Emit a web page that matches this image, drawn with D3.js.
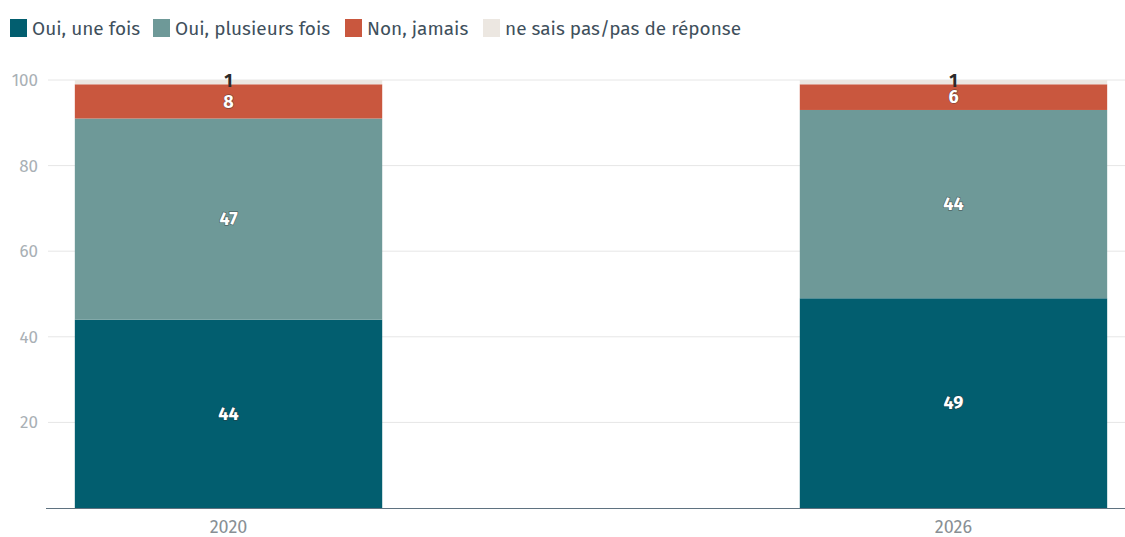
<!DOCTYPE html>
<html>
<head>
<meta charset="utf-8">
<script src="https://cdn.jsdelivr.net/npm/d3@7"></script>
<style>
  body { margin: 0; background: #fff; }
  svg { font-family: "Fira Sans", Roboto, "Noto Sans", sans-serif; }
</style>
</head>
<body>
<div id="chart"></div>
<script>
const years = ["2020", "2026"];
const series = ["Oui, une fois", "Oui, plusieurs fois", "Non, jamais", "ne sais pas/pas de réponse"];
const colors = ["#025e6f", "#6e9998", "#c9573e", "#ece7e1"];
const onceValues = [44, 49];
const severalValues = [47, 44];
const neverValues = [8, 6];
const dkValues = [1, 1];
const yTicks = [20, 40, 60, 80, 100];

const width = 1125, height = 537;
const svg = d3.select("#chart").append("svg")
    .attr("width", width)
    .attr("height", height);

const rows = years.map((y, i) => ({
    year: y,
    [series[0]]: onceValues[i],
    [series[1]]: severalValues[i],
    [series[2]]: neverValues[i],
    [series[3]]: dkValues[i]
}));
const stacked = d3.stack().keys(series)(rows);

const x = d3.scaleBand()
    .domain(years)
    .range([48, 1134])
    .paddingInner(0.576)
    .paddingOuter(0.037);

const y = d3.scaleLinear()
    .domain([0, 100])
    .range([508, 80]);

// grid
svg.append("g").selectAll("line")
    .data(yTicks)
    .join("line")
    .attr("x1", 48).attr("x2", width)
    .attr("y1", d => y(d)).attr("y2", d => y(d))
    .attr("stroke", "#e6e6e6")
    .attr("stroke-width", 1);

// y labels
svg.append("g").selectAll("text")
    .data(yTicks)
    .join("text")
    .attr("x", 38)
    .attr("y", d => y(d))
    .attr("dy", "0.35em")
    .attr("text-anchor", "end")
    .attr("fill", "#a9b0b5")
    .attr("font-size", 17)
    .text(d => d);

// bars
const layer = svg.append("g").selectAll("g")
    .data(stacked)
    .join("g")
    .attr("fill", (d, i) => colors[i]);

layer.selectAll("rect")
    .data(d => d)
    .join("rect")
    .attr("x", d => x(d.data.year))
    .attr("width", x.bandwidth())
    .attr("y", d => y(d[1]))
    .attr("height", d => y(d[0]) - y(d[1]));

// axis line
svg.append("line")
    .attr("x1", 46).attr("x2", width)
    .attr("y1", 508.5).attr("y2", 508.5)
    .attr("stroke", "#5f7280")
    .attr("stroke-width", 1.2);

// x labels
svg.append("g").selectAll("text")
    .data(years)
    .join("text")
    .attr("x", d => x(d) + x.bandwidth() / 2)
    .attr("y", 533)
    .attr("text-anchor", "middle")
    .attr("fill", "#888f94")
    .attr("font-size", 18)
    .text(d => d);

// value labels
stacked.forEach((s, si) => {
    const dark = si === 3;
    svg.append("g").selectAll("text")
        .data(s)
        .join("text")
        .attr("x", d => x(d.data.year) + x.bandwidth() / 2)
        .attr("y", d => y((d[0] + d[1]) / 2) + (dark ? -1 : 0))
        .attr("dy", "0.35em")
        .attr("text-anchor", "middle")
        .attr("font-size", 18)
        .attr("font-weight", "bold")
        .attr("fill", dark ? "#2b2b2b" : "#ffffff")
        .attr("stroke", dark ? "#ffffff" : "#333333")
        .attr("stroke-width", dark ? 0 : 1.4)
        .attr("stroke-opacity", 0.5)
        .attr("paint-order", "stroke")
        .text(d => d[1] - d[0]);
});

// legend
const legendX = [10, 153, 345, 483];
const legend = svg.append("g").selectAll("g")
    .data(series)
    .join("g")
    .attr("transform", (d, i) => `translate(${legendX[i]},19)`);

legend.append("rect")
    .attr("width", 17).attr("height", 18)
    .attr("fill", (d, i) => colors[i]);

legend.append("text")
    .attr("x", 22)
    .attr("y", 9)
    .attr("dy", "0.35em")
    .attr("fill", "#3f505c")
    .attr("font-size", 19)
    .text(d => d);
</script>
</body>
</html>
